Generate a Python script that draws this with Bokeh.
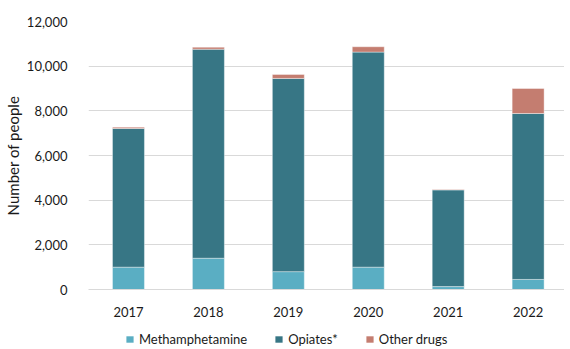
from bokeh.plotting import figure
from bokeh.layouts import column
from bokeh.models import (ColumnDataSource, Range1d, FixedTicker, NumeralTickFormatter,
                          Legend, LegendItem)
from bokeh.embed import file_html
from bokeh.resources import INLINE

years = ["2017", "2018", "2019", "2020", "2021", "2022"]
methamphetamine = [1000, 1400, 800, 1000, 130, 450]
opiates = [6210, 9360, 8650, 9630, 4330, 7430]
other_drugs = [60, 90, 180, 240, 20, 1120]
y_ticks = [0, 2000, 4000, 6000, 8000, 10000, 12000]

series = ["methamphetamine", "opiates", "other"]
labels = ["Methamphetamine", "Opiates*", "Other drugs"]
colors = ["#5aaec3", "#377685", "#c47d70"]

xs = list(range(len(years)))
source = ColumnDataSource(dict(x=xs, methamphetamine=methamphetamine,
                               opiates=opiates, other=other_drugs))

FONT = "Lato"
TXT = "#1a1a1a"
W = 564

p = figure(width=W, height=322, output_backend="svg", toolbar_location=None,
           x_range=Range1d(-0.5, 5.455), y_range=Range1d(0, 12000),
           min_border_left=84, min_border_right=0, min_border_top=21, min_border_bottom=33)

p.vbar_stack(series, x="x", width=0.4, source=source, color=colors,
             line_color="white", line_alpha=0.4, line_width=1)

p.outline_line_color = None
p.xgrid.grid_line_color = None
p.ygrid.grid_line_color = "#d9d9d9"
p.ygrid.grid_line_width = 1.2
p.ygrid.ticker = FixedTicker(ticks=y_ticks)

p.xaxis.ticker = FixedTicker(ticks=xs)
p.xaxis.major_label_overrides = {i: y for i, y in enumerate(years)}
p.xaxis.axis_line_color = "#d9d9d9"
p.xaxis.axis_line_width = 1.2
p.xaxis.major_tick_line_color = None
p.xaxis.minor_tick_line_color = None
p.xaxis.major_label_standoff = 11
p.xaxis.major_label_text_font = FONT
p.xaxis.major_label_text_font_size = "13px"
p.xaxis.major_label_text_color = TXT

p.yaxis.ticker = FixedTicker(ticks=y_ticks)
p.yaxis.formatter = NumeralTickFormatter(format="0,0")
p.yaxis.axis_line_color = None
p.yaxis.major_tick_line_color = None
p.yaxis.minor_tick_line_color = None
p.yaxis.major_label_standoff = 15
p.yaxis.major_label_text_font = FONT
p.yaxis.major_label_text_font_size = "13px"
p.yaxis.major_label_text_color = TXT
p.yaxis.axis_label = "Number of people"
p.yaxis.axis_label_text_font = FONT
p.yaxis.axis_label_text_font_size = "15px"
p.yaxis.axis_label_text_font_style = "normal"
p.yaxis.axis_label_text_color = TXT
p.yaxis.axis_label_standoff = 2

# legend strip: hidden copies of the bar renderers, only the legend is shown
p2 = figure(width=W, height=25, output_backend="svg", toolbar_location=None,
            x_range=Range1d(100, 101), y_range=Range1d(-200000, -100000),
            x_axis_type=None, y_axis_type=None, min_border=0)
p2.outline_line_color = None
p2.grid.grid_line_color = None
rs = p2.vbar_stack(series, x="x", width=0.4, source=source, color=colors, line_color=None)
for r in rs:
    r.visible = False
items = [LegendItem(label=lab, renderers=[r]) for lab, r in zip(labels, rs)]
legend = Legend(items=items, location=(37, 0), orientation="horizontal",
                padding=0, margin=0, spacing=27,
                border_line_color=None, background_fill_alpha=0,
                inactive_fill_alpha=0,
                glyph_width=9, glyph_height=8, label_standoff=5, label_height=16,
                label_text_font=FONT, label_text_font_size="13px",
                label_text_color=TXT)
p2.add_layout(legend, "center")

layout = column(p, p2, spacing=0)
open("out.html", "w").write(file_html(layout, INLINE))
